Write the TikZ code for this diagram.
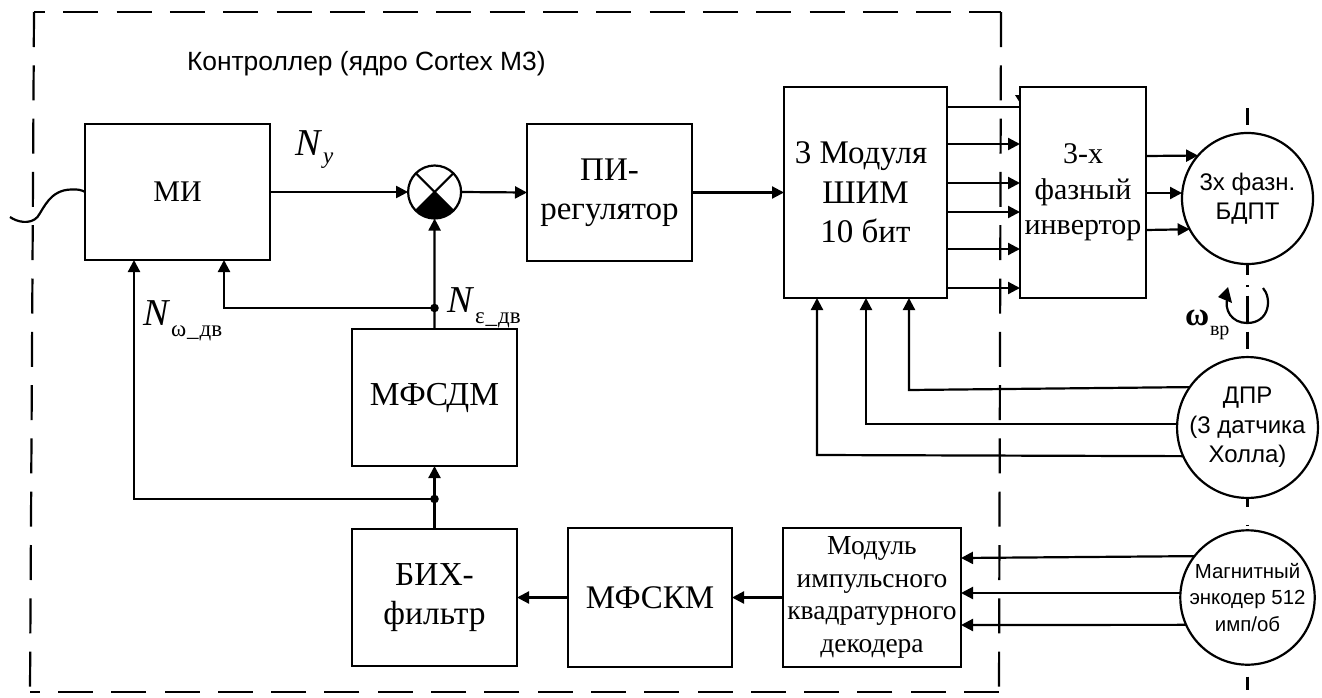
\documentclass[tikz,border=0pt]{standalone}
\usepackage{fontspec}
\setmainfont{Liberation Serif}
\newfontfamily\lsans{Liberation Sans}
\usetikzlibrary{arrows.meta}
\newcommand{\fs}[2]{\fontsize{#1}{#2}\selectfont}
\tikzset{
  blk/.style={draw,line width=2.2pt,inner sep=0pt,outer sep=0pt,align=center,fill=white},
  rnd/.style={draw,circle,line width=2.2pt,inner sep=0pt,outer sep=0pt,minimum size=131pt,align=center,fill=white},
  conn/.style={line width=2.2pt,-{Triangle[length=12pt,width=12pt]}},
  plain/.style={line width=2.2pt},
  axisl/.style={line width=2.2pt},
  frameline/.style={line width=2.2pt,dash pattern=on 35pt off 18.3pt},
  sym/.style={inner sep=0pt,outer sep=0pt}
}
\begin{document}
\begin{tikzpicture}[x=1pt,y=-1pt]
\useasboundingbox (0,0) rectangle (1322,697);
% controller frame
\coordinate (fa) at (34,12);
\coordinate (fb) at (1001,12);
\coordinate (fc) at (999,692);
\coordinate (fd) at (30,692);
\draw[line width=2.2pt,dash pattern=on 35pt off 18.3pt,dash phase=24pt] (fa) -- (fb);
\draw[frameline] (fb) -- (fc);
\draw[frameline] (fc) -- (fd);
\draw[frameline] (fa) -- (fd);
% axis
\coordinate (axtop) at (1247.5,108);
\coordinate (axbot) at (1247.5,690);
\node[rnd,font=\lsans\fs{24}{29}] (motor) at (1247.5,198.5) {3х фазн.\\БДПТ};
\node[rnd,font=\lsans\fs{24}{29.5}] (dpr) at (1247.5,427.5) {ДПР\\(3 датчика\\Холла)};
\node[rnd,font=\lsans\fs{20.4}{26.5}] (enc) at (1247.5,597.5) {Магнитный\\энкодер 512\\имп/об};
\draw[axisl,dash pattern=on 17pt off 99pt] (axtop) -- (motor.north);
\draw[axisl,dash pattern=on 11pt off 10pt on 1.5pt off 9pt on 26pt off 10pt on 17pt off 40pt] (motor.south) -- (dpr.north);
\draw[axisl,dash pattern=on 9pt off 18pt on 1.5pt off 9pt on 9pt off 20pt] (dpr.south) -- (enc.north);
\draw[axisl,dash pattern=on 0pt off 12pt on 20pt off 20pt] (enc.south) -- (axbot);
% boxes
\node[blk,minimum width=185pt,minimum height=136pt,font=\fs{30}{36}] (mi) at (177.5,192) {МИ};
\node[blk,minimum width=165pt,minimum height=137pt,font=\fs{33.5}{36}] (mfsdm) at (434.5,397.5) {МФСДМ};
\node[blk,minimum width=165pt,minimum height=137pt,font=\fs{33.5}{39}] (bih) at (434.5,597.5) {БИХ-\\фильтр};
\node[blk,minimum width=164pt,minimum height=139pt,font=\fs{33}{36}] (mfskm) at (650,597.5) {МФСКМ};
\node[blk,minimum width=178pt,minimum height=139pt,font=\fs{27.5}{32.5}] (dec) at (872,597.5) {Модуль\\импульсного\\квадратурного\\декодера};
\node[blk,minimum width=165pt,minimum height=137pt,font=\fs{33}{39}] (pi) at (609.5,192.5) {ПИ-\\регулятор};
\node[blk,minimum width=163pt,minimum height=211pt,font=\fs{33}{39.5}] (shim) at (865.5,192.5) {3 Модуля\kern9pt\\ШИМ\\10 бит};
\node[blk,minimum width=126pt,minimum height=211pt,font=\fs{30}{35.5}] (inv) at (1083,192.5) {3-х\\фазный\\инвертор};
% summing junction
\node[draw,circle,line width=2.2pt,minimum size=53pt,inner sep=0pt,outer sep=0pt] (sum) at (434.6,192) {};
\fill (sum.center) -- (sum.-45) arc (-45:-135:26.5pt) -- cycle;
\draw[plain] (sum.45) -- (sum.-135) (sum.135) -- (sum.-45);
% connectors
\draw[conn] (mi.east) -- (sum.west);
\draw[conn] (sum.east) -- (pi.west);
\draw[conn] (pi.east) -- (shim.west);
\draw[conn] (mfsdm.north) -- (sum.south);
\coordinate (jn1) at (mfsdm.north |- 0,308);
\coordinate (jn2) at (mfsdm.south |- 0,499);
\fill (jn1) circle (4.3pt) (jn2) circle (4.3pt);
\draw[conn] (jn1) -| (mi.south -| 224,0);
\draw[conn] (jn2) -| (mi.south -| 134,0);
\draw[conn] (bih.north) -- (mfsdm.south);
\draw[conn] (mfskm.west) -- (bih.east);
\draw[conn] (dec.west) -- (mfskm.east);
\draw[plain] (shim.east |- 0,107) -- (inv.west |- 0,107);
\fill (1015,95) -- (1020,95) -- (1020,103) -- cycle;
\foreach \yy in {144,183,212,249,288}
  \draw[conn] (shim.east |- 0,\yy) -- (inv.west |- 0,\yy);
\draw[conn] (inv.east |- 0,156) -- (motor.139.6);
\draw[conn] (inv.east |- 0,193) -- (motor.west |- 0,193);
\draw[conn] (inv.east |- 0,230) -- (motor.208.7);
\draw[conn] (dpr.145.1) -- (909,390) -- (shim.south -| 909,0);
\draw[conn] (dpr.west |- 0,424) -- (866,424) -- (shim.south -| 866,0);
\draw[conn] (dpr.204.8) -- (817,455) -- (shim.south -| 817,0);
\draw[conn] (enc.142.9) -- (dec.east |- 0,558);
\draw[conn] (enc.west |- 0,593) -- (dec.east |- 0,593);
\draw[conn] (enc.204.8) -- (dec.east |- 0,625);
% input wave
\coordinate (inp) at (10,217);
\draw[plain] (inp) .. controls (17,222) and (30,225) .. (37.5,217) .. controls (44,208) and (50,190) .. (71,189.5) .. controls (77,189) and (82,190) .. (mi.west);
% rotation
\draw[plain] (1263,288) .. controls (1272,298) and (1270,323) .. (1247,323) .. controls (1232,323) and (1223,310) .. (1228,296);
\fill (1218,297) -- (1228,287) -- (1232,303) -- cycle;
% labels
\node[sym,anchor=base west,font=\lsans\fs{26.4}{30}] (title) at (187,70) {Контроллер (ядро Cortex M3)};
\node[sym,anchor=base west,font=\itshape\fs{38}{38}] (ny) at (295,155) {N};
\node[sym,anchor=base west,font=\itshape\fs{23}{23}] (nys) at (323,163) {y};
\node[sym,anchor=base west,font=\itshape\fs{38}{38}] (ne) at (447,312) {N};
\node[sym,anchor=base west,font=\fs{23}{23}] (nes) at (475,323) {ε\kern1pt\_\kern1pt дв};
\node[sym,anchor=base west,font=\itshape\fs{38}{38}] (nw) at (143,325) {N};
\node[sym,anchor=base west,font=\fs{23}{23}] (nws) at (171,336) {ω\kern1pt\_\kern1pt дв};
\node[sym,anchor=base west,font=\bfseries\fs{33}{33}] (wv) at (1185,325) {ω};
\node[sym,anchor=base west,font=\fs{20}{20}] (wvs) at (1210,335) {вр};
\end{tikzpicture}
\end{document}
